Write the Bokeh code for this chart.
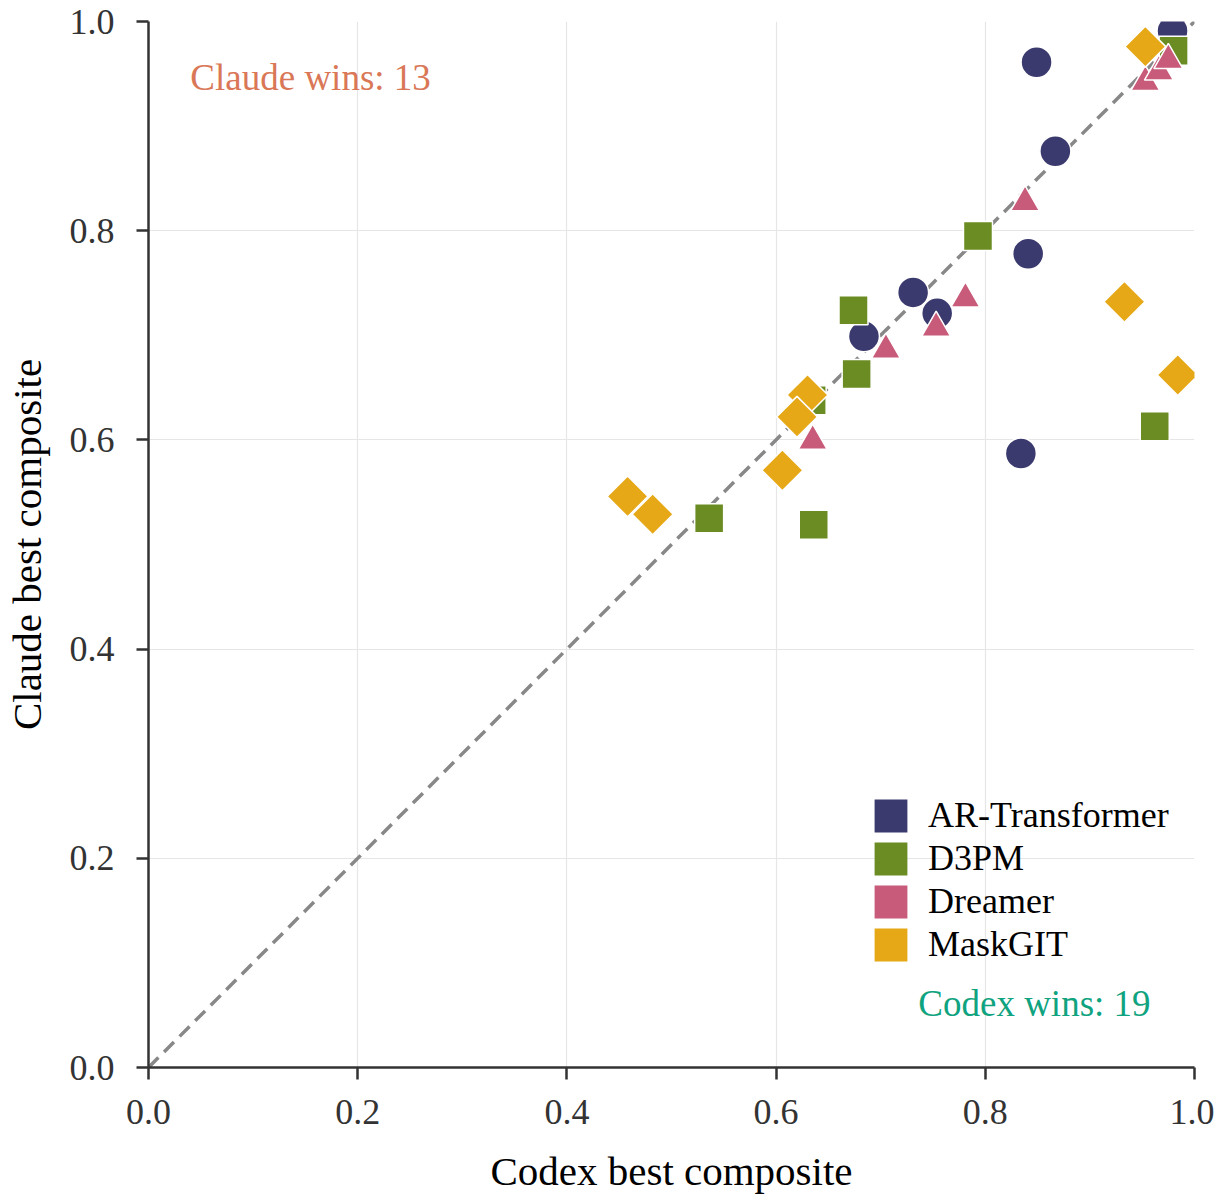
import numpy as np
from bokeh.plotting import figure
from bokeh.models import Range1d, Legend, LegendItem, Label, FixedTicker, NumeralTickFormatter
from bokeh.embed import file_html
from bokeh.resources import INLINE

# ---- data ----
ar_x = [0.979, 0.849, 0.867, 0.841, 0.731, 0.754, 0.684, 0.834]
ar_y = [0.991, 0.961, 0.876, 0.778, 0.741, 0.721, 0.699, 0.587]

d3pm_x = [0.980, 0.793, 0.674, 0.677, 0.634, 0.536, 0.636, 0.962]
d3pm_y = [0.972, 0.795, 0.724, 0.663, 0.638, 0.525, 0.519, 0.613]

dreamer_x = [0.953, 0.966, 0.975, 0.838, 0.781, 0.753, 0.705, 0.635]
dreamer_y = [0.942, 0.952, 0.963, 0.827, 0.735, 0.707, 0.686, 0.599]

maskgit_x = [0.953, 0.933, 0.984, 0.630, 0.620, 0.606, 0.458, 0.482]
maskgit_y = [0.976, 0.732, 0.662, 0.643, 0.622, 0.571, 0.546, 0.529]

series_names = ["AR-Transformer", "D3PM", "Dreamer", "MaskGIT"]
series_colors = ["#3b3a6e", "#6a8c22", "#c85b7a", "#e6a817"]
ticks = [0.0, 0.2, 0.4, 0.6, 0.8, 1.0]
claude_wins = 13
codex_wins = 19

FONT = "Liberation Serif"

p = figure(
    frame_width=1046, frame_height=1046,
    x_range=Range1d(0, 1), y_range=Range1d(0, 1),
    output_backend="svg", toolbar_location=None,
    min_border_left=140, min_border_top=21, min_border_right=20, min_border_bottom=125,
)
p.outline_line_color = None
p.background_fill_color = "white"

for ax in (p.xaxis[0], p.yaxis[0]):
    ax.ticker = FixedTicker(ticks=ticks)
    ax.formatter = NumeralTickFormatter(format="0.0")
    ax.axis_line_color = "#333333"
    ax.axis_line_width = 2.5
    ax.major_tick_line_color = "#333333"
    ax.major_tick_line_width = 2.5
    ax.major_tick_out = 12
    ax.major_tick_in = 0
    ax.minor_tick_line_color = None
    ax.major_label_text_font = FONT
    ax.major_label_text_font_size = "36px"
    ax.major_label_text_color = "#333333"
    ax.axis_label_text_font = FONT
    ax.axis_label_text_font_size = "41px"
    ax.axis_label_text_font_style = "normal"
    ax.axis_label_text_color = "black"

p.xaxis[0].axis_label = "Codex best composite"
p.yaxis[0].axis_label = "Claude best composite"
p.xaxis[0].major_label_standoff = 20
p.yaxis[0].major_label_standoff = 22
p.xaxis[0].axis_label_standoff = 21
p.yaxis[0].axis_label_standoff = 17
p.yaxis[0].major_label_orientation = "horizontal"

for g in (p.xgrid[0], p.ygrid[0]):
    g.ticker = FixedTicker(ticks=ticks)
    g.grid_line_color = "#e6e6e6"
    g.grid_line_width = 1.2

# diagonal
p.line([0, 1], [0, 1], line_color="#888888", line_width=3.5, line_dash="14 8")

# scatter series
p.scatter(ar_x, ar_y, marker="circle", size=31, fill_color=series_colors[0],
          line_color="white", line_width=1.5)
p.scatter(d3pm_x, d3pm_y, marker="square", size=29, fill_color=series_colors[1],
          line_color="white", line_width=1.5)
p.scatter(dreamer_x, dreamer_y, marker="triangle", size=29, fill_color=series_colors[2],
          line_color="white", line_width=1.5)
p.scatter(maskgit_x, maskgit_y, marker="square", size=29, angle=np.pi / 4,
          fill_color=series_colors[3], line_color="white", line_width=1.5)

# legend proxies (outside visible range)
items = []
for name, col in zip(series_names, series_colors):
    r = p.quad(left=[-5], right=[-4], bottom=[-5], top=[-4], fill_color=col, line_color=None)
    items.append(LegendItem(label=name, renderers=[r]))

legend = Legend(items=items, location=(722, 102), orientation="vertical",
                glyph_width=41, glyph_height=41, label_height=41, spacing=1,
                label_standoff=17, padding=0, margin=0,
                border_line_color=None, background_fill_alpha=0,
                label_text_font=FONT, label_text_font_size="36px",
                label_text_color="black")
p.add_layout(legend, "center")

p.add_layout(Label(x=0.04, y=0.946, text=f"Claude wins: {claude_wins}",
                   text_font=FONT, text_font_size="37px", text_color="#d97757",
                   text_baseline="middle", text_align="left"))
p.add_layout(Label(x=0.958, y=0.061, text=f"Codex wins: {codex_wins}",
                   text_font=FONT, text_font_size="37px", text_color="#10a37f",
                   text_baseline="middle", text_align="right"))

open("out.html", "w").write(file_html(p, INLINE))
